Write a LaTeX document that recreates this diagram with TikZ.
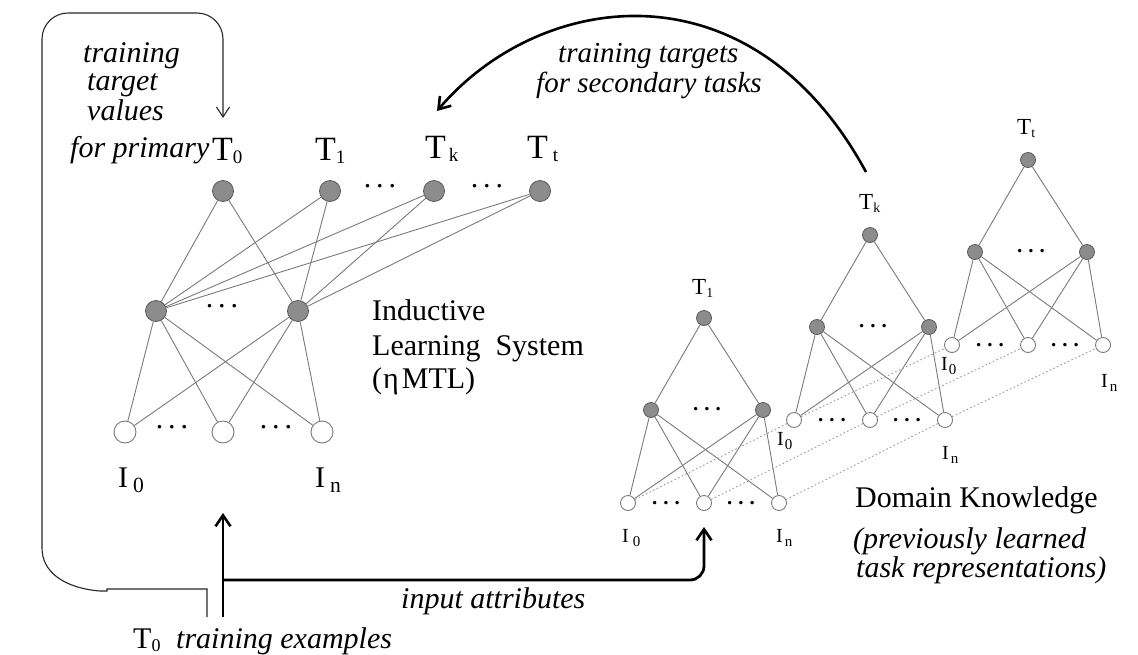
\documentclass[tikz,border=0pt]{standalone}
\usepackage{fontspec}
\setmainfont{Liberation Serif}
\usepackage{graphicx}
\usetikzlibrary{arrows.meta}

\definecolor{nodefill}{HTML}{8C8C8C}
\definecolor{nodeline}{HTML}{5A5A5A}
\definecolor{wire}{HTML}{7A7A7A}
\definecolor{linkdot}{HTML}{9A9A9A}

\newcommand{\fs}[1]{\fontsize{#1}{#1}\selectfont}
% lowered, shrunk index: scale, drop, text
\newcommand{\lo}[3]{\raisebox{-#2}{\scalebox{#1}{#3}}}

% one small previously-learned network; #1 prefix, (#2,#3) its output unit
\newcommand{\subnet}[3]{%
  \begin{scope}[shift={(#2,#3)}]
    \node[smallunit] (#1-top) at (0,0) {};
    \node[smallunit] (#1-h1) at (-53,92) {};
    \node[smallunit] (#1-h2) at (59,92) {};
    \node[smallfeat] (#1-i1) at (-76,185) {};
    \node[smallfeat] (#1-i2) at (0,185) {};
    \node[smallfeat] (#1-i3) at (75,185) {};
    \node[rdots] (#1-hd) at (3,91) {.\kern6pt.\kern6pt.};
    \node[rdots] (#1-id1) at (-38,185) {.\kern6pt.\kern6pt.};
    \node[rdots] (#1-id2) at (37,185) {.\kern6pt.\kern6pt.};
    \draw[wire] (#1-top) -- (#1-h1);
    \draw[wire] (#1-top) -- (#1-h2);
    \foreach \h in {h1,h2}{\foreach \i in {i1,i2,i3}{\draw[wire] (#1-\h) -- (#1-\i);}}
  \end{scope}}

\begin{document}
\begin{tikzpicture}[x=1pt,y=-1pt,
  unit/.style={circle,draw=nodeline,fill=nodefill,line width=0.8pt,inner sep=0pt},
  bigunit/.style={unit,minimum size=21pt},
  smallunit/.style={unit,minimum size=15pt},
  feat/.style={circle,draw=wire,fill=white,line width=0.9pt,inner sep=0pt},
  bigfeat/.style={feat,minimum size=22pt},
  smallfeat/.style={feat,minimum size=15pt},
  wire/.style={draw=wire,line width=0.9pt},
  link/.style={draw=linkdot,line width=0.9pt,dash pattern=on 1.6pt off 2.4pt},
  word/.style={inner sep=0pt,anchor=base west,font=\fs{30}},
  iword/.style={inner sep=0pt,anchor=base west,font=\fs{30}\itshape},
  biglabel/.style={inner sep=0pt,anchor=base west,font=\fs{34}},
  smalltlabel/.style={inner sep=0pt,anchor=base west,font=\fs{23}},
  smallilabel/.style={inner sep=0pt,anchor=base west,font=\fs{20}},
  ldots/.style={inner sep=0pt,font=\fs{30}},
  rdots/.style={inner sep=0pt,font=\fs{21}\bfseries},
  thinarrow/.style={draw=black!85,line width=1.1pt,-{Straight Barb[length=10pt,width=13pt,line width=1.1pt]}},
  heavyarrow/.style={draw=black,line width=2.8pt,-{Straight Barb[length=11pt,width=15pt,line width=2.6pt]}},
]
\useasboundingbox (0,0) rectangle (1138,654);

% ---------- inductive learning system ----------
\node[bigunit] (o0) at (223,191) {};
\node[bigunit] (o1) at (330,191) {};
\node[bigunit] (ok) at (434,191) {};
\node[bigunit] (ot) at (540,191) {};
\node[bigunit] (h1) at (156,311) {};
\node[bigunit] (h2) at (298,311) {};
\node[bigfeat] (i1) at (125,432) {};
\node[bigfeat] (i2) at (223,432) {};
\node[bigfeat] (i3) at (322,432) {};

\node[ldots] (od1) at (380,186) {.\kern5pt.\kern5pt.};
\node[ldots] (od2) at (487,186) {.\kern5pt.\kern5pt.};
\node[ldots] (hd) at (222,306) {.\kern5pt.\kern5pt.};
\node[ldots] (id1) at (172,427) {.\kern5pt.\kern5pt.};
\node[ldots] (id2) at (276,427) {.\kern5pt.\kern5pt.};

\foreach \h in {h1,h2}{
  \foreach \o in {o0,o1,ok,ot}{\draw[wire] (\h) -- (\o);}
  \foreach \i in {i1,i2,i3}{\draw[wire] (\h) -- (\i);}
}

\node[biglabel] (lt0) at (212,160) {T\lo{0.56}{3pt}{0}};
\node[biglabel] (lt1) at (315,160) {T\lo{0.56}{3pt}{1}};
\node[biglabel] (ltk) at (425,158) {T\kern3pt\lo{0.56}{3pt}{k}};
\node[biglabel] (ltt) at (527,158) {T\kern5pt\lo{0.56}{3pt}{t}};
\node[word] (li0) at (118,487) {I\kern5pt\lo{0.72}{5pt}{0}};
\node[word] (lin) at (315,487) {I\kern5pt\lo{0.72}{5pt}{n}};

\node[word] (sys1) at (372,320) {Inductive};
\node[word] (sys2) at (372,355) {Learning\hspace{15pt}System};
\node[word] (sys3) at (372,388) {(\kern1pt η\kern3pt MTL)};

% ---------- domain knowledge ----------
\subnet{a}{704}{318}
\subnet{b}{870}{235}
\subnet{c}{1028}{160}

\foreach \i in {i1,i2,i3}{
  \draw[link] (a-\i) -- (b-\i);
  \draw[link] (b-\i) -- (c-\i);
}

\node[smalltlabel] (at) at (692,294) {T\lo{0.6}{3pt}{1}};
\node[smalltlabel] (bt) at (859,209) {T\lo{0.6}{3pt}{k}};
\node[smalltlabel] (ct) at (1017,134) {T\lo{0.6}{3pt}{t}};
\node[smallilabel] (ai0) at (622,542) {I\kern4pt\lo{0.75}{4pt}{0}};
\node[smallilabel] (ain) at (776,542) {I\kern2pt\lo{0.75}{4pt}{n}};
\node[smallilabel] (bi0) at (777,445) {I\kern1pt\lo{0.75}{4pt}{0}};
\node[smallilabel] (bin) at (942,459) {I\kern2pt\lo{0.75}{4pt}{n}};
\node[smallilabel] (ci0) at (941,370) {I\kern1pt\lo{0.75}{4pt}{0}};
\node[smallilabel] (cin) at (1101,387) {I\kern2pt\lo{0.75}{4pt}{n}};

\node[word] (dk1) at (855,507) {Domain Knowledge};
\node[iword] (dk2) at (853,548) {(previously learned};
\node[iword] (dk3) at (856,577) {task representations)};

% ---------- flows ----------
\node[iword] (prim1) at (83,62) {training};
\node[iword] (prim2) at (87,90) {target};
\node[iword] (prim3) at (87,120) {values};
\node[iword] (prim4) at (70,157) {for primary};

\coordinate (loopend) at (207,617);
\coordinate (t0top) at (223,118);
\draw[thinarrow] (loopend) -- (207,589) -- (107,589) -- (107,591) -- (100,591)
  .. controls (64,588) and (42,572) .. (42,548)
  [rounded corners=26pt] -- (42,13) -- (223,13) [sharp corners] -- (t0top);

\coordinate (feed) at (223,617);
\coordinate (split) at (223,580);
\coordinate (ilsin) at (223,513);
\draw[heavyarrow] (feed) -- (ilsin);
\draw[heavyarrow,rounded corners=14pt,shorten >=16pt] (split) -- (split -| a-i2) -- (a-i2);

\node[iword] (attr) at (401,608) {input attributes};
\node[word] (ex1) at (133,648) {T\lo{0.6}{3pt}{0}};
\node[iword] (ex2) at (176,648) {training examples};

\coordinate (arcfrom) at (866,172);
\coordinate (arcto) at (437,111);
\draw[heavyarrow,line width=2.6pt] (arcfrom) .. controls (751,-40) and (540,-10) .. (arcto);
\node[iword,font=\fs{29}\itshape] (sec1) at (558,62) {training targets};
\node[iword,font=\fs{29}\itshape] (sec2) at (536,92) {for secondary tasks};
\end{tikzpicture}
\end{document}
